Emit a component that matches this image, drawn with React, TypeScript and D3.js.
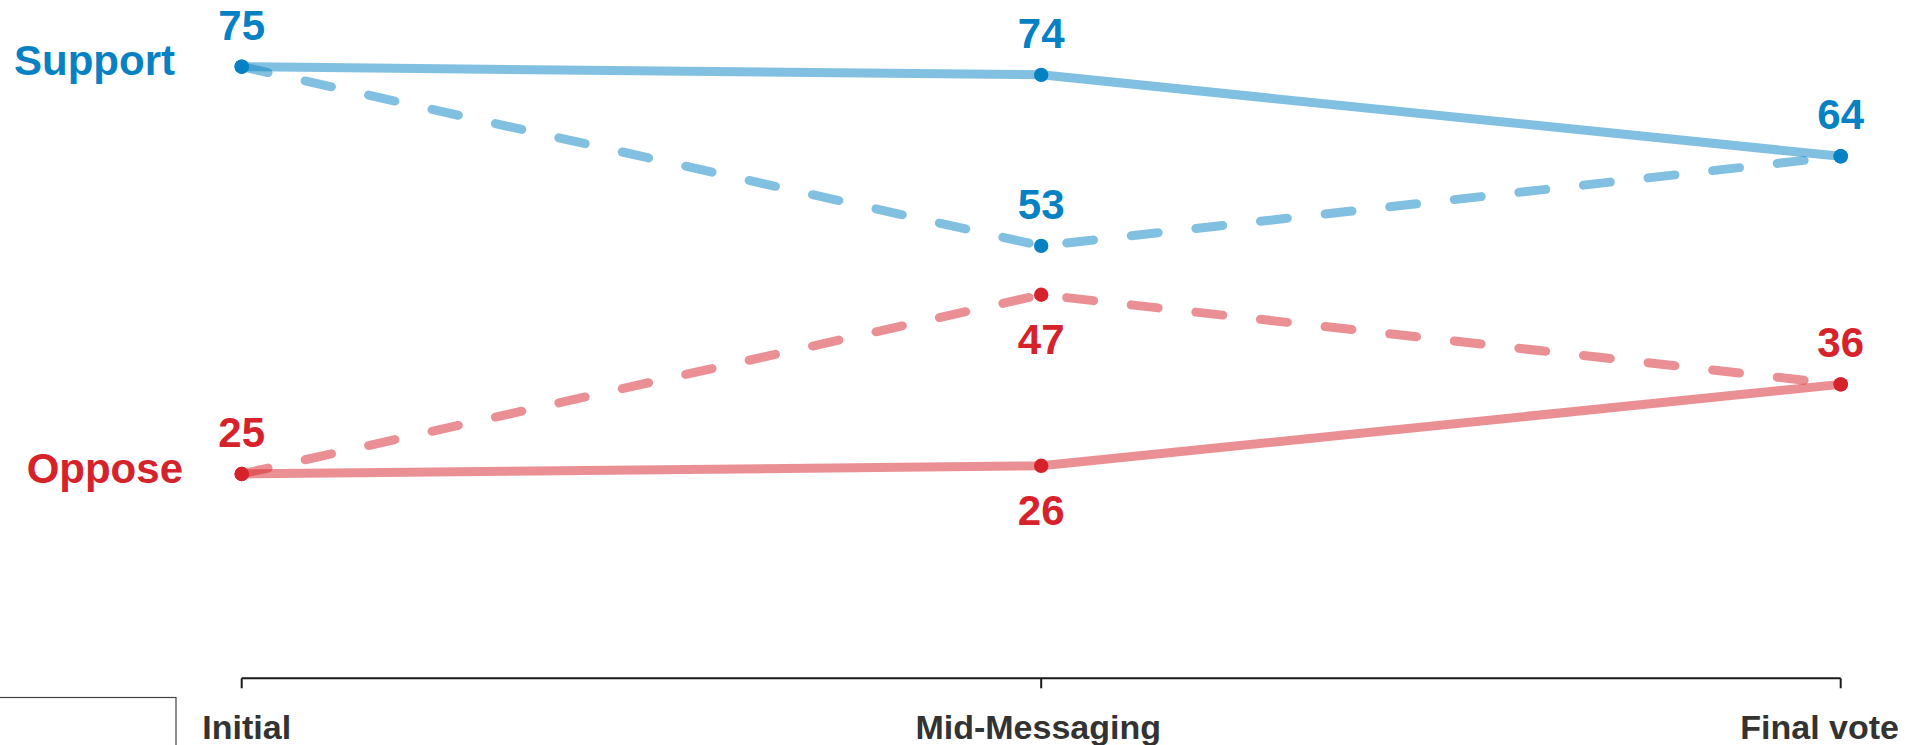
import React from "react";
import * as d3 from "d3";

const categories = ["Initial", "Mid-Messaging", "Final vote"];
const supportSolid = [75, 74, 64];
const opposeSolid = [25, 26, 36];
const supportDashed = [75, 53, 64];
const opposeDashed = [25, 47, 36];
// label placement: "above" or "below" the point, per series
const supportSolidLabels = ["above", "above", "above"];
const supportDashedLabels = ["none", "above", "none"];
const opposeSolidLabels = ["above", "below", "above"];
const opposeDashedLabels = ["none", "below", "none"];

const W = 1913;
const H = 745;
const BLUE = "#0681c3";
const RED = "#d6222a";
const FONT = "'Liberation Sans', Arial, Helvetica, sans-serif";

export default function App() {
  const x = d3.scalePoint<string>().domain(categories).range([241.7, 1840.7]);
  const y = d3.scaleLinear().domain([0, 75]).range([677.6, 66.7]);

  const line = d3
    .line<number>()
    .x((_, i) => x(categories[i]) as number)
    .y((d) => y(d));

  const series = [
    { vals: supportSolid, color: BLUE, dashed: false, labels: supportSolidLabels },
    { vals: supportDashed, color: BLUE, dashed: true, labels: supportDashedLabels },
    { vals: opposeSolid, color: RED, dashed: false, labels: opposeSolidLabels },
    { vals: opposeDashed, color: RED, dashed: true, labels: opposeDashedLabels },
  ];

  const axisY = 678.3;

  return (
    <svg
      width={W}
      height={H}
      style={{ position: "absolute", left: 0, top: 0, background: "#fff" }}
      fontFamily={FONT}
    >
      <rect x={-1} y={697.5} width={177} height={100} fill="none" stroke="#444" strokeWidth={1.2} />

      {/* axis */}
      <line x1={x(categories[0])} x2={x(categories[2])} y1={axisY} y2={axisY} stroke="#1a1a1a" strokeWidth={2} />
      {categories.map((c) => (
        <line key={c} x1={x(c)} x2={x(c)} y1={axisY} y2={axisY + 10} stroke="#1a1a1a" strokeWidth={2} />
      ))}
      {categories.map((c, i) => {
        const last = i === categories.length - 1;
        return (
          <text
            key={c}
            x={last ? 1899 : (x(c) as number) + (i === 0 ? 5 : -3)}
            y={739}
            textAnchor={last ? "end" : "middle"}
            fontSize={34}
            fontWeight="bold"
            fill="#333"
          >
            {c}
          </text>
        );
      })}

      {/* lines */}
      {series.map((s, k) => (
        <path
          key={k}
          d={line(s.vals) as string}
          fill="none"
          stroke={s.color}
          strokeOpacity={0.5}
          strokeWidth={9}
          strokeLinecap={s.dashed ? "round" : "butt"}
          strokeLinejoin="round"
          strokeDasharray={s.dashed ? "27 38" : undefined}
        />
      ))}

      {/* dots */}
      {series.map((s, k) =>
        s.vals.map((v, i) => (
          <circle key={`${k}-${i}`} cx={x(categories[i])} cy={y(v)} r={7.2} fill={s.color} />
        ))
      )}

      {/* value labels */}
      {series.map((s, k) =>
        s.vals.map((v, i) =>
          s.labels[i] === "none" ? null : (
            <text
              key={`l${k}-${i}`}
              x={x(categories[i])}
              y={s.labels[i] === "above" ? y(v) - 27 : y(v) + 59}
              textAnchor="middle"
              fontSize={42}
              fontWeight="bold"
              fill={s.color}
            >
              {v}
            </text>
          )
        )
      )}

      {/* series labels */}
      <text x={175} y={y(supportSolid[0]) + 8.5} textAnchor="end" fontSize={42} fontWeight="bold" fill={BLUE}>
        Support
      </text>
      <text x={183} y={y(opposeSolid[0]) + 9.5} textAnchor="end" fontSize={42} fontWeight="bold" fill={RED}>
        Oppose
      </text>
    </svg>
  );
}
